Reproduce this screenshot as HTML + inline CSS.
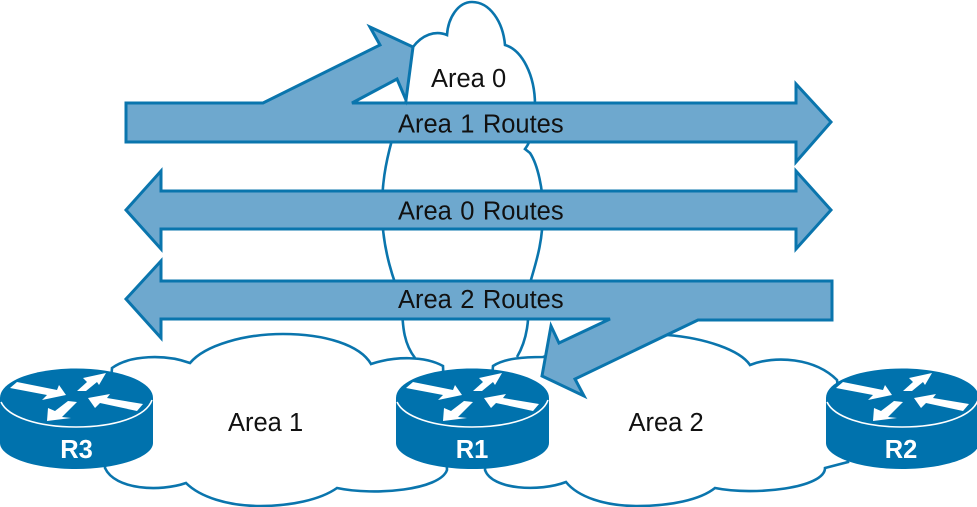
<!DOCTYPE html>
<html><head><meta charset="utf-8"><style>
html,body{margin:0;padding:0;background:#fff;width:977px;height:507px;overflow:hidden}
svg{display:block}
text{font-family:"Liberation Sans",Arial,sans-serif;font-size:25.5px;fill:#111}
.w{word-spacing:1.3px}
.r{font-weight:bold;font-size:25.5px;fill:#fff;text-anchor:middle}
</style></head><body>
<svg width="977" height="507" viewBox="0 0 977 507" xmlns="http://www.w3.org/2000/svg">
<defs>
<g id="router">
<path d="M0 31 V76 C0 90 34 102 76 102 C118 102 153 90 153 76 V31 C153 14 118 1.500 76 1.500 C34 1.500 0 14 0 31Z" fill="#0072ad"/>
<path d="M1 35 C8 50 38 60 76 60 C114 60 146 50 152 33" fill="none" stroke="#fff" stroke-width="1.6"/>
<path d="M10 21 L17 15 L57 23 L59 18 L66 28 L42 33 L47 28Z" fill="#fff"/>
<path d="M106 6 L83 11 L87 15 L77 24 L86 24 L97 15 L99 18Z" fill="#fff"/>
<path d="M88 31 L110 27 L107 31 L143 37 L137 44 L100 36 L95 41Z" fill="#fff"/>
<path d="M47 54 L48 41 L55 44 L68 34 L77 35 L62 50 L71 51Z" fill="#fff"/>
</g>
</defs>
<g fill="#fff" stroke="#0a75ad" stroke-width="2.6" stroke-linejoin="miter">
<!-- Area 0 cloud (open at the bottom) -->
<path d="M415 358 C405 345 402 330 402 300 C395 285 382 250 382 210 C382 185 385 165 392 140 C395 125 405 110 406 100 C405 80 408 60 413 47 C422 35 435 30 447 35 C448 18 458 2 472 2 C490 2 503 22 505 45 C522 50 535 75 535 105 C535 125 532 140 525 149 L530 153 C538 165 543 190 543 210 C543 245 535 265 528 290 C530 320 527 340 517 357"/>
<!-- Area 1 cloud -->
<path d="M112 368 C130 355 165 354 190 363 C205 345 245 334 283 334 C325 334 360 345 371 364 C395 356 425 356 443 366 L447 470 C440 490 375 496 337 488 C320 500 290 506 260 506 C228 506 200 497 186 483 C160 492 115 490 105 468Z"/>
<!-- Area 2 cloud -->
<path d="M493 366 C505 358 525 357 543 357 C580 345 620 335 667 335 C705 338 740 350 750 365 C775 355 815 358 837 380 L848 462 L825 468 C825 488 755 496 715 488 C700 500 670 506 637 506 C605 506 578 497 566 482 C540 492 492 490 485 470Z"/>
</g>
<g fill="#6ea8ce" stroke="#0a75ad" stroke-width="3" stroke-linejoin="miter">
<path d="M126 103 H263 L380 45 L370 27 L413 47 L406 100 L397 79 L352 103 H796 V84 L831 122 L796 162 V142 H126Z"/>
<path d="M126 210 L161 171 V191 H796 V171 L831 210 L796 249 V229 H161 V249Z"/>
<path d="M126 299 L161 261 V281 H832 V320 H698 L575 379 L584 396 L542 376 L551 326 L559 343 L610 319 H161 V338Z"/>
</g>
<use href="#router" x="0" y="367"/>
<use href="#router" x="396" y="367"/>
<use href="#router" x="826" y="367"/>
<text x="431" y="87">Area 0</text>
<text class="w" x="398" y="132.500">Area 1 Routes</text>
<text class="w" x="398" y="219.500">Area 0 Routes</text>
<text class="w" x="398" y="308">Area 2 Routes</text>
<text x="228" y="431">Area 1</text>
<text x="628.500" y="431">Area 2</text>
<text class="r" x="76.500" y="458">R3</text>
<text class="r" x="472" y="458">R1</text>
<text class="r" x="901" y="458">R2</text>
</svg>
</body></html>
